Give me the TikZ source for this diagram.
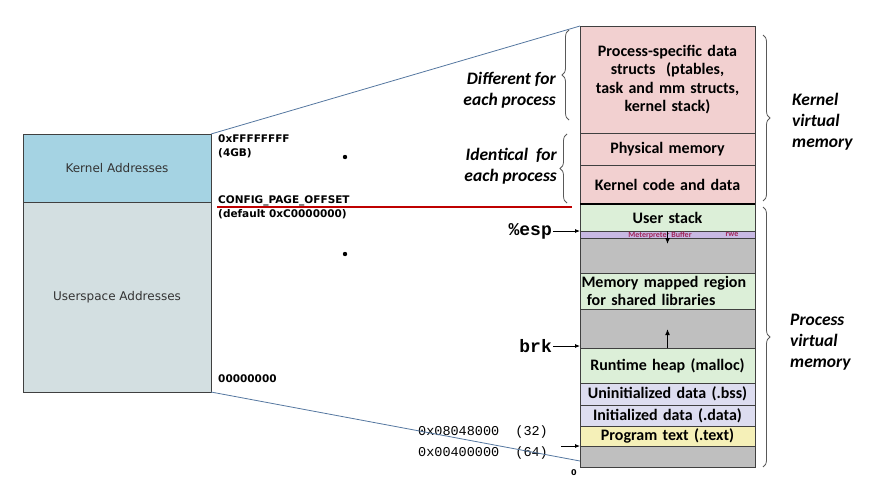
\documentclass[tikz,border=0pt]{standalone}
\usepackage{fontspec}
\setmainfont{Carlito}
\setmonofont{Liberation Mono}
\newfontfamily\dejavu{DejaVu Sans}
\usepackage{tikz}
\usetikzlibrary{positioning,decorations.pathreplacing,arrows.meta}
\definecolor{kaddr-blue}{HTML}{A5D3E3}
\definecolor{uaddr-gray}{HTML}{D3DFE1}
\definecolor{kpink}{HTML}{F2D0D0}
\definecolor{ugreen}{HTML}{DCEFD8}
\definecolor{gap-gray}{HTML}{BFBFBF}
\definecolor{meterp-purple}{HTML}{C8B9E3}
\definecolor{data-blue}{HTML}{DDDDF0}
\definecolor{text-yellow}{HTML}{F5F0B8}
\definecolor{meterp-red}{HTML}{A0265A}
\definecolor{zoom-blue}{HTML}{5577A0}
\tikzset{
    addr-box/.style = {draw=black!75, thick, minimum width=188pt, inner sep=0pt, outer sep=0pt, text=black!80, font=\dejavu\fontsize{12}{14}\selectfont},
    mem-box/.style = {draw=black!75, fill=#1, minimum width=175pt, text width=172pt, align=center, inner sep=0pt, outer sep=0pt, font=\bfseries\fontsize{16}{18.5}\selectfont},
    addr-label/.style = {inner sep=0pt, align=left, font=\dejavu\bfseries\fontsize{10.5}{13.5}\selectfont},
    mono-label/.style = {inner sep=0pt, font=\ttfamily\fontsize{13.5}{16}\selectfont},
    ptr-label/.style = {inner sep=1pt, font=\ttfamily\bfseries\fontsize{18}{20}\selectfont},
    ptr-arrow/.style = {-{Latex[length=5pt,width=4pt]}, thick},
    grow-arrow/.style = {-{Latex[length=6pt,width=5pt]}, line width=1.5pt},
    meterp-label/.style = {inner sep=0pt, text=meterp-red, font=\bfseries\fontsize{8}{9}\selectfont},
    side-label/.style = {inner sep=0pt, font=\bfseries\itshape\fontsize{17.5}{21}\selectfont},
    side-brace/.style = {decorate, decoration={brace, amplitude=7pt}, draw=black!65, thick},
    zoom-line/.style = {draw=zoom-blue, thick},
}
\begin{document}
\begin{tikzpicture}[x=1pt,y=-1pt]
\useasboundingbox (0,0) rectangle (877,485);
\node[addr-box, fill=kaddr-blue, minimum height=68pt, anchor=north west] (kaddr) at (23,134) {Kernel Addresses};
\node[addr-box, fill=uaddr-gray, minimum height=190pt, below=0pt of kaddr] (uaddr) {Userspace Addresses};

\node[mem-box=kpink, minimum height=107pt, anchor=north west] (pdata) at (580,26) {Process-specific data\\structs~ (ptables,\\task and mm structs,\\kernel stack)};
\node[mem-box=kpink, minimum height=32pt, below=0pt of pdata] (phys) {Physical memory};
\node[mem-box=kpink, minimum height=39pt, below=0pt of phys] (kcode) {Kernel code and data};
\node[mem-box=ugreen, minimum height=27pt, below=0pt of kcode] (ustack) {User stack};
\node[mem-box=meterp-purple, minimum height=7pt, below=0pt of ustack] (meterp) {};
\node[mem-box=gap-gray, minimum height=35pt, below=0pt of meterp] (gap1) {};
\node[mem-box=ugreen, minimum height=36pt, below=0pt of gap1, align=left] (mmap) {Memory mapped region\\\ for shared libraries};
\node[mem-box=gap-gray, minimum height=39pt, below=0pt of mmap] (gap2) {};
\node[mem-box=ugreen, minimum height=35pt, below=0pt of gap2] (heap) {Runtime heap (malloc)};
\node[mem-box=data-blue, minimum height=22pt, below=0pt of heap] (bss) {Uninitialized data (.bss)};
\node[mem-box=data-blue, minimum height=21pt, below=0pt of bss] (data) {Initialized data (.data)};
\node[mem-box=text-yellow, minimum height=20pt, below=0pt of data] (text) {Program text (.text)};
\node[mem-box=gap-gray, minimum height=21pt, below=0pt of text] (gap3) {};
\draw[line width=1.6pt] (kcode.south west) -- (kcode.south east);

\node[meterp-label] (mbuf) at (660,235) {Meterpreter Buffer};
\node[meterp-label] (rwe) at (732,235) {rwe};
\draw[grow-arrow] (meterp.north) -- ++(0,13);
\draw[grow-arrow] (heap.north) -- ++(0,-19);

\node[ptr-label, anchor=east] (esp) at (553,231) {\%esp};
\node[ptr-label, anchor=east] (brk) at (553,346) {brk};
\coordinate (text-ptr) at (561,446);
\draw[ptr-arrow] (esp.east) -- (esp.east -| ustack.west);
\draw[ptr-arrow] (brk.east) -- (brk.east -| heap.west);
\draw[ptr-arrow] (text-ptr) -- (gap3.north west);

\node[addr-label, anchor=north west] (top-addr) at (218,135) {0xFFFFFFFF\\(4GB)};
\node[addr-label, anchor=north west] (page-offset) at (218,196) {CONFIG\_PAGE\_OFFSET\\(default 0xC0000000)};
\node[addr-label, anchor=west] (low-addr) at (218,379) {00000000};
\node[mono-label, anchor=west] (addr32) at (418,432) {0x08048000~~(32)};
\node[mono-label, anchor=west] (addr64) at (418,453) {0x00400000~~(64)};
\node[addr-label, font=\dejavu\bfseries\fontsize{8}{9}\selectfont] (zero-addr) at (574,473) {0};
\fill (345,157) circle (2.2pt);
\fill (345,254) circle (2.2pt);

\draw[red!75!black, line width=1.3pt] (217,207) -- (572,207);
\coordinate (zero) at (580,461);
\draw[zoom-line] (kaddr.north east) -- (pdata.north west);
\draw[zoom-line] (uaddr.south east) -- (zero);

\draw[side-brace] (569,120) -- (569,30);
\draw[side-brace] (567,203) -- (567,134);
\draw[side-brace] (763,35) -- (763,201);
\draw[side-brace] (763,207) -- (763,467);
\node[side-label, anchor=east, align=right] (diff) at (556,90) {Different for\\each process};
\node[side-label, anchor=east, align=right] (ident) at (557,166) {Identical~ for\\each process};
\node[side-label, anchor=west, align=left] (kvm) at (792,122) {Kernel\\virtual\\memory};
\node[side-label, anchor=west, align=left] (pvm) at (790,342) {Process\\virtual\\memory};
\end{tikzpicture}
\end{document}
